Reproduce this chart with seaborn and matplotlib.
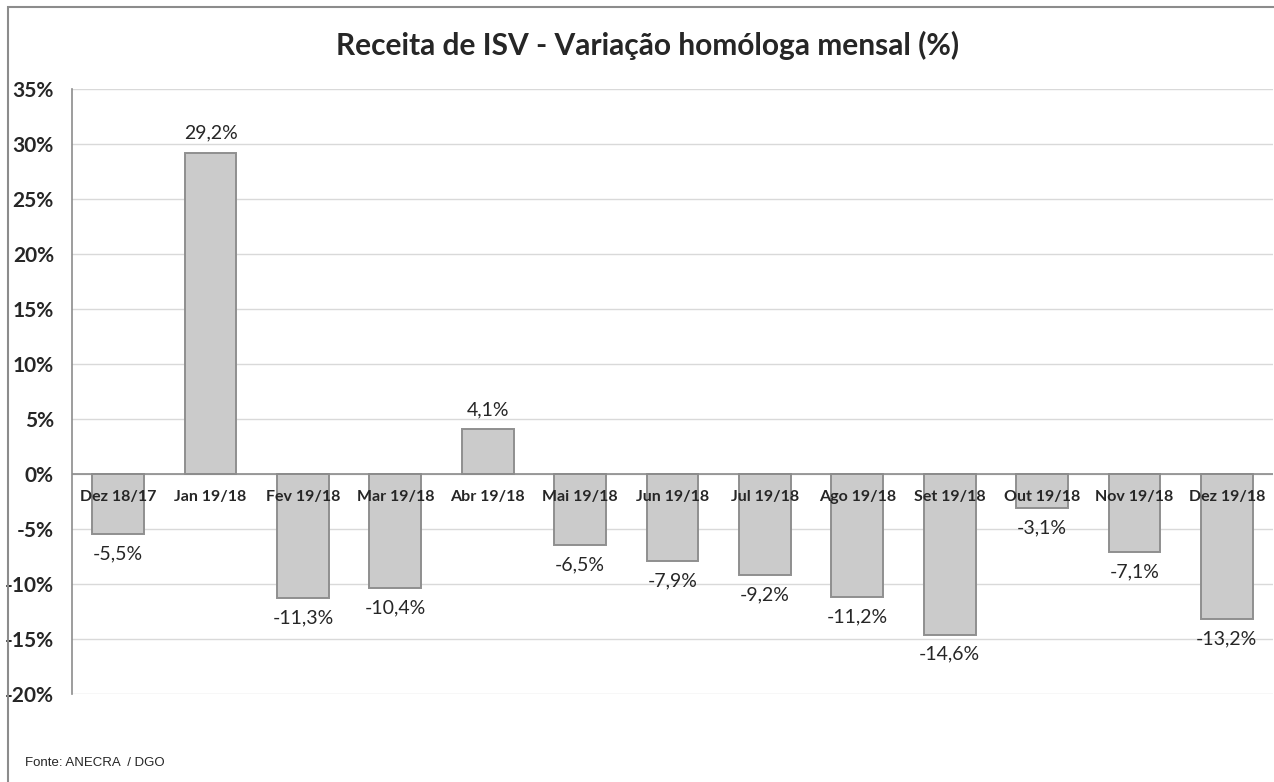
import numpy as np
import pandas as pd
import seaborn as sns
import matplotlib.pyplot as plt
from matplotlib.patches import Rectangle

meses = ['Dez 18/17', 'Jan 19/18', 'Fev 19/18', 'Mar 19/18', 'Abr 19/18', 'Mai 19/18',
         'Jun 19/18', 'Jul 19/18', 'Ago 19/18', 'Set 19/18', 'Out 19/18', 'Nov 19/18', 'Dez 19/18']
variacao = [-5.5, 29.2, -11.3, -10.4, 4.1, -6.5, -7.9, -9.2, -11.2, -14.6, -3.1, -7.1, -13.2]
y_ticks = [35, 30, 25, 20, 15, 10, 5, 0, -5, -10, -15, -20]

sns.set_style('white')
plt.rcParams['font.family'] = ['Lato', 'DejaVu Sans']

df = pd.DataFrame({'mes': meses, 'var': variacao})

fig = plt.figure(figsize=(12.74, 7.82), dpi=100)
ax = fig.add_axes([72 / 1274, 1 - 694 / 782, 1201 / 1274, 605 / 782])

sns.barplot(data=df, x='mes', y='var', color='#cbcbcb', width=0.56,
            edgecolor='#8f8f8f', linewidth=1.4, saturation=1, ax=ax, zorder=3)

ax.set_ylim(-20, 35)
ax.set_xlim(-0.5, len(meses) - 0.5)
ax.set_yticks(y_ticks)
ax.set_yticklabels([f'{t}%' for t in y_ticks], fontsize=15, fontweight='bold')
ax.tick_params(axis='y', length=0, pad=13)
ax.grid(axis='y', color='#d9d9d9', linewidth=1, zorder=0)
ax.axhline(0, color='#8c8c8c', linewidth=1.2, zorder=4)
for s in ['top', 'right', 'bottom']:
    ax.spines[s].set_visible(False)
ax.spines['left'].set_color('#8c8c8c')
ax.spines['left'].set_linewidth(1.2)
ax.set_xlabel('')
ax.set_ylabel('')

# category labels just below zero line
ax.set_xticks(range(len(meses)))
ax.set_xticklabels([])
ax.tick_params(axis='x', length=0)
for i, m in enumerate(meses):
    ax.text(i, -2.1, m, ha='center', va='center', fontsize=11.5, fontweight='bold', zorder=5)

# value labels
for i, v in enumerate(variacao):
    lbl = f'{v:.1f}%'.replace('.', ',')
    if v >= 0:
        ax.text(i, v + 1.0, lbl, ha='center', va='bottom', fontsize=14)
    else:
        ax.text(i, v - 1.0, lbl, ha='center', va='top', fontsize=14)

fig.text(0.508, 1 - 45 / 782, 'Receita de ISV - Variação homóloga mensal (%)',
         ha='center', va='center', fontsize=21.5, fontweight='bold')
fig.text(25 / 1274, 1 - 763 / 782, 'Fonte: ANECRA  / DGO', ha='left', va='center',
         fontsize=9.5, family='Liberation Sans')

fig.patches.append(Rectangle((8 / 1274, -0.1), 1.2, 1 - 7 / 782 + 0.1, transform=fig.transFigure,
                             fill=False, edgecolor='#8c8c8c', linewidth=1.5))

fig.savefig('out.png', dpi=100)
